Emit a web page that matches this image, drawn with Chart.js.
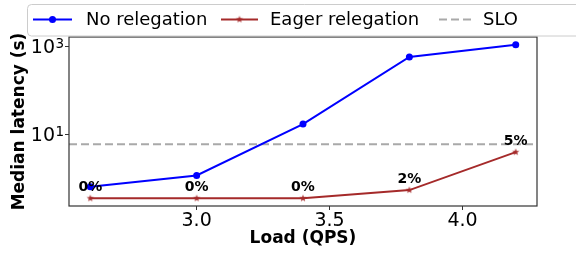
<!DOCTYPE html>
<html><head><meta charset="utf-8">
<script src="https://cdn.jsdelivr.net/npm/chart.js@4.4.1/dist/chart.umd.min.js"></script>
<style>html,body{margin:0;padding:0;background:#fff}</style>
</head><body>
<canvas id="c" width="576" height="254"></canvas>
<script>
// ---- data ----
const loads = [2.6, 3.0, 3.4, 3.8, 4.2];
const noRelegation = [0.67, 1.2, 17.5, 580, 1100];
const eagerRelegation = [0.365, 0.365, 0.365, 0.56, 4.05];
const relegatedPct = ['0%', '0%', '0%', '2%', '5%'];
const sloValue = 6.1;
const xTicks = [3.0, 3.5, 4.0];
const yTicks = [10, 1000];
const yTickExponents = ['1', '3'];
const seriesNames = ['No relegation', 'Eager relegation', 'SLO'];

// ---- styles ----
const FONT = 'DejaVu Sans';
const BLUE = '#0000ff';
const BROWN = '#a52a2a';
const GRAY = '#a9a9a9';

function makeStar(r, color) {
  const s = Math.ceil(r * 2 + 2);
  const c = document.createElement('canvas');
  c.width = s; c.height = s;
  const g = c.getContext('2d');
  g.beginPath();
  for (let i = 0; i < 10; i++) {
    const a = -Math.PI / 2 + i * Math.PI / 5;
    const rr = i % 2 ? r * 0.4 : r;
    g.lineTo(s / 2 + rr * Math.cos(a), s / 2 + rr * Math.sin(a));
  }
  g.closePath();
  g.fillStyle = color;
  g.fill();
  return c;
}
const star = makeStar(3.8, BROWN);

// axis ranges with 5% margins (matplotlib-like)
const xMin = Math.min(...loads), xMax = Math.max(...loads);
const xPad = 0.05 * (xMax - xMin);
const allY = noRelegation.concat(eagerRelegation);
const lyMin = Math.log10(Math.min(...allY)), lyMax = Math.log10(Math.max(...allY));
const lyPad = 0.05 * (lyMax - lyMin);

const toXY = arr => arr.map((v, i) => ({x: loads[i], y: v}));

const sloPlugin = {
  id: 'slo',
  beforeDatasetsDraw(chart) {
    const {ctx, chartArea: a, scales: {y}} = chart;
    const py = y.getPixelForValue(sloValue);
    ctx.save();
    ctx.strokeStyle = GRAY;
    ctx.lineWidth = 2;
    ctx.setLineDash([8, 4]);
    ctx.beginPath();
    ctx.moveTo(a.left, py);
    ctx.lineTo(a.right, py);
    ctx.stroke();
    ctx.restore();
  }
};

const framePlugin = {
  id: 'frame',
  afterDatasetsDraw(chart) {
    const {ctx, chartArea: a} = chart;
    ctx.save();
    ctx.strokeStyle = '#333';
    ctx.lineWidth = 1.2;
    ctx.strokeRect(a.left, a.top, a.right - a.left, a.bottom - a.top);
    // percentage labels above eager relegation points
    const meta = chart.getDatasetMeta(1);
    ctx.fillStyle = '#000';
    ctx.font = 'bold 14px "' + FONT + '"';
    ctx.textAlign = 'center';
    ctx.textBaseline = 'alphabetic';
    meta.data.forEach((el, i) => {
      ctx.fillText(relegatedPct[i], el.x, el.y - 7);
    });
    ctx.restore();
  },
  afterDraw(chart) {
    // exponents of the y tick labels (10^n)
    const {ctx, scales: {y}} = chart;
    ctx.save();
    ctx.fillStyle = '#000';
    ctx.font = '13.5px "' + FONT + '"';
    ctx.textAlign = 'left';
    ctx.textBaseline = 'alphabetic';
    yTicks.forEach((v, i) => {
      const py = y.getPixelForValue(v);
      ctx.fillText(yTickExponents[i], 55.5, py + 1);
    });
    ctx.restore();
  }
};

const legendPlugin = {
  id: 'customLegend',
  afterDraw(chart) {
    const ctx = chart.ctx;
    ctx.save();
    ctx.fillStyle = 'rgba(255,255,255,0.8)';
    ctx.strokeStyle = '#cccccc';
    ctx.lineWidth = 1;
    ctx.beginPath();
    ctx.roundRect(27.5, 4.5, 570, 31.5, 4);
    ctx.fill();
    ctx.stroke();
    const cy = 19.5;
    const items = [
      {h0: 33, h1: 72, tx: 86, kind: 'circle'},
      {h0: 221, h1: 258, tx: 270, kind: 'star'},
      {h0: 439, h1: 475, tx: 483, kind: 'dash'}
    ];
    ctx.font = '18px "' + FONT + '"';
    ctx.textBaseline = 'middle';
    ctx.textAlign = 'left';
    items.forEach((it, i) => {
      ctx.beginPath();
      ctx.lineWidth = 2;
      if (it.kind === 'dash') { ctx.strokeStyle = GRAY; ctx.setLineDash([8, 4]); }
      else { ctx.strokeStyle = it.kind === 'circle' ? BLUE : BROWN; ctx.setLineDash([]); }
      ctx.moveTo(it.h0, cy); ctx.lineTo(it.h1, cy); ctx.stroke();
      ctx.setLineDash([]);
      const mx = (it.h0 + it.h1) / 2;
      if (it.kind === 'circle') {
        ctx.fillStyle = BLUE;
        ctx.beginPath(); ctx.arc(mx, cy, 3.5, 0, Math.PI * 2); ctx.fill();
      } else if (it.kind === 'star') {
        ctx.drawImage(star, mx - star.width / 2, cy - star.height / 2);
      }
      ctx.fillStyle = '#000';
      ctx.fillText(seriesNames[i], it.tx, cy + 1);
    });
    ctx.restore();
  }
};

Chart.defaults.font.family = FONT;
Chart.defaults.color = '#000';

new Chart(document.getElementById('c'), {
  type: 'line',
  data: {
    datasets: [
      {
        label: seriesNames[0], data: toXY(noRelegation),
        borderColor: BLUE, backgroundColor: BLUE, borderWidth: 2,
        pointRadius: 3.5, pointStyle: 'circle', pointBorderWidth: 0,
        tension: 0, fill: false
      },
      {
        label: seriesNames[1], data: toXY(eagerRelegation),
        borderColor: BROWN, backgroundColor: BROWN, borderWidth: 2,
        pointStyle: star, pointRadius: 4,
        tension: 0, fill: false
      }
    ]
  },
  options: {
    responsive: false,
    animation: false,
    devicePixelRatio: 1,
    layout: {padding: {top: 37, right: 39, left: 0, bottom: 0}},
    plugins: {legend: {display: false}, tooltip: {enabled: false}},
    scales: {
      x: {
        type: 'linear', bounds: 'data',
        min: xMin - xPad, max: xMax + xPad,
        afterBuildTicks: s => { s.ticks = xTicks.map(v => ({value: v})); },
        afterFit: s => { s.height = 48; },
        ticks: {font: {size: 19}, padding: 0, callback: v => v.toFixed(1)},
        grid: {display: true, drawOnChartArea: false, drawTicks: true, tickLength: 4, color: '#333'},
        border: {display: false},
        title: {display: true, text: 'Load (QPS)', font: {size: 17, weight: 'bold'}, padding: {top: 0, bottom: 5}}
      },
      y: {
        type: 'logarithmic', bounds: 'data',
        min: Math.pow(10, lyMin - lyPad), max: Math.pow(10, lyMax + lyPad),
        afterBuildTicks: s => { s.ticks = yTicks.map(v => ({value: v})); },
        afterFit: s => { s.width = 69; },
        ticks: {font: {size: 19}, padding: 10, labelOffset: 1.5, callback: v => (yTicks.includes(v) ? '10' : '')},
        grid: {display: true, drawOnChartArea: false, drawTicks: true, tickLength: 4, color: '#333'},
        border: {display: false},
        title: {display: true, text: 'Median latency (s)', font: {size: 17, weight: 'bold'}, padding: {top: 9, bottom: 0}}
      }
    }
  },
  plugins: [sloPlugin, framePlugin, legendPlugin]
});
</script>
</body></html>
